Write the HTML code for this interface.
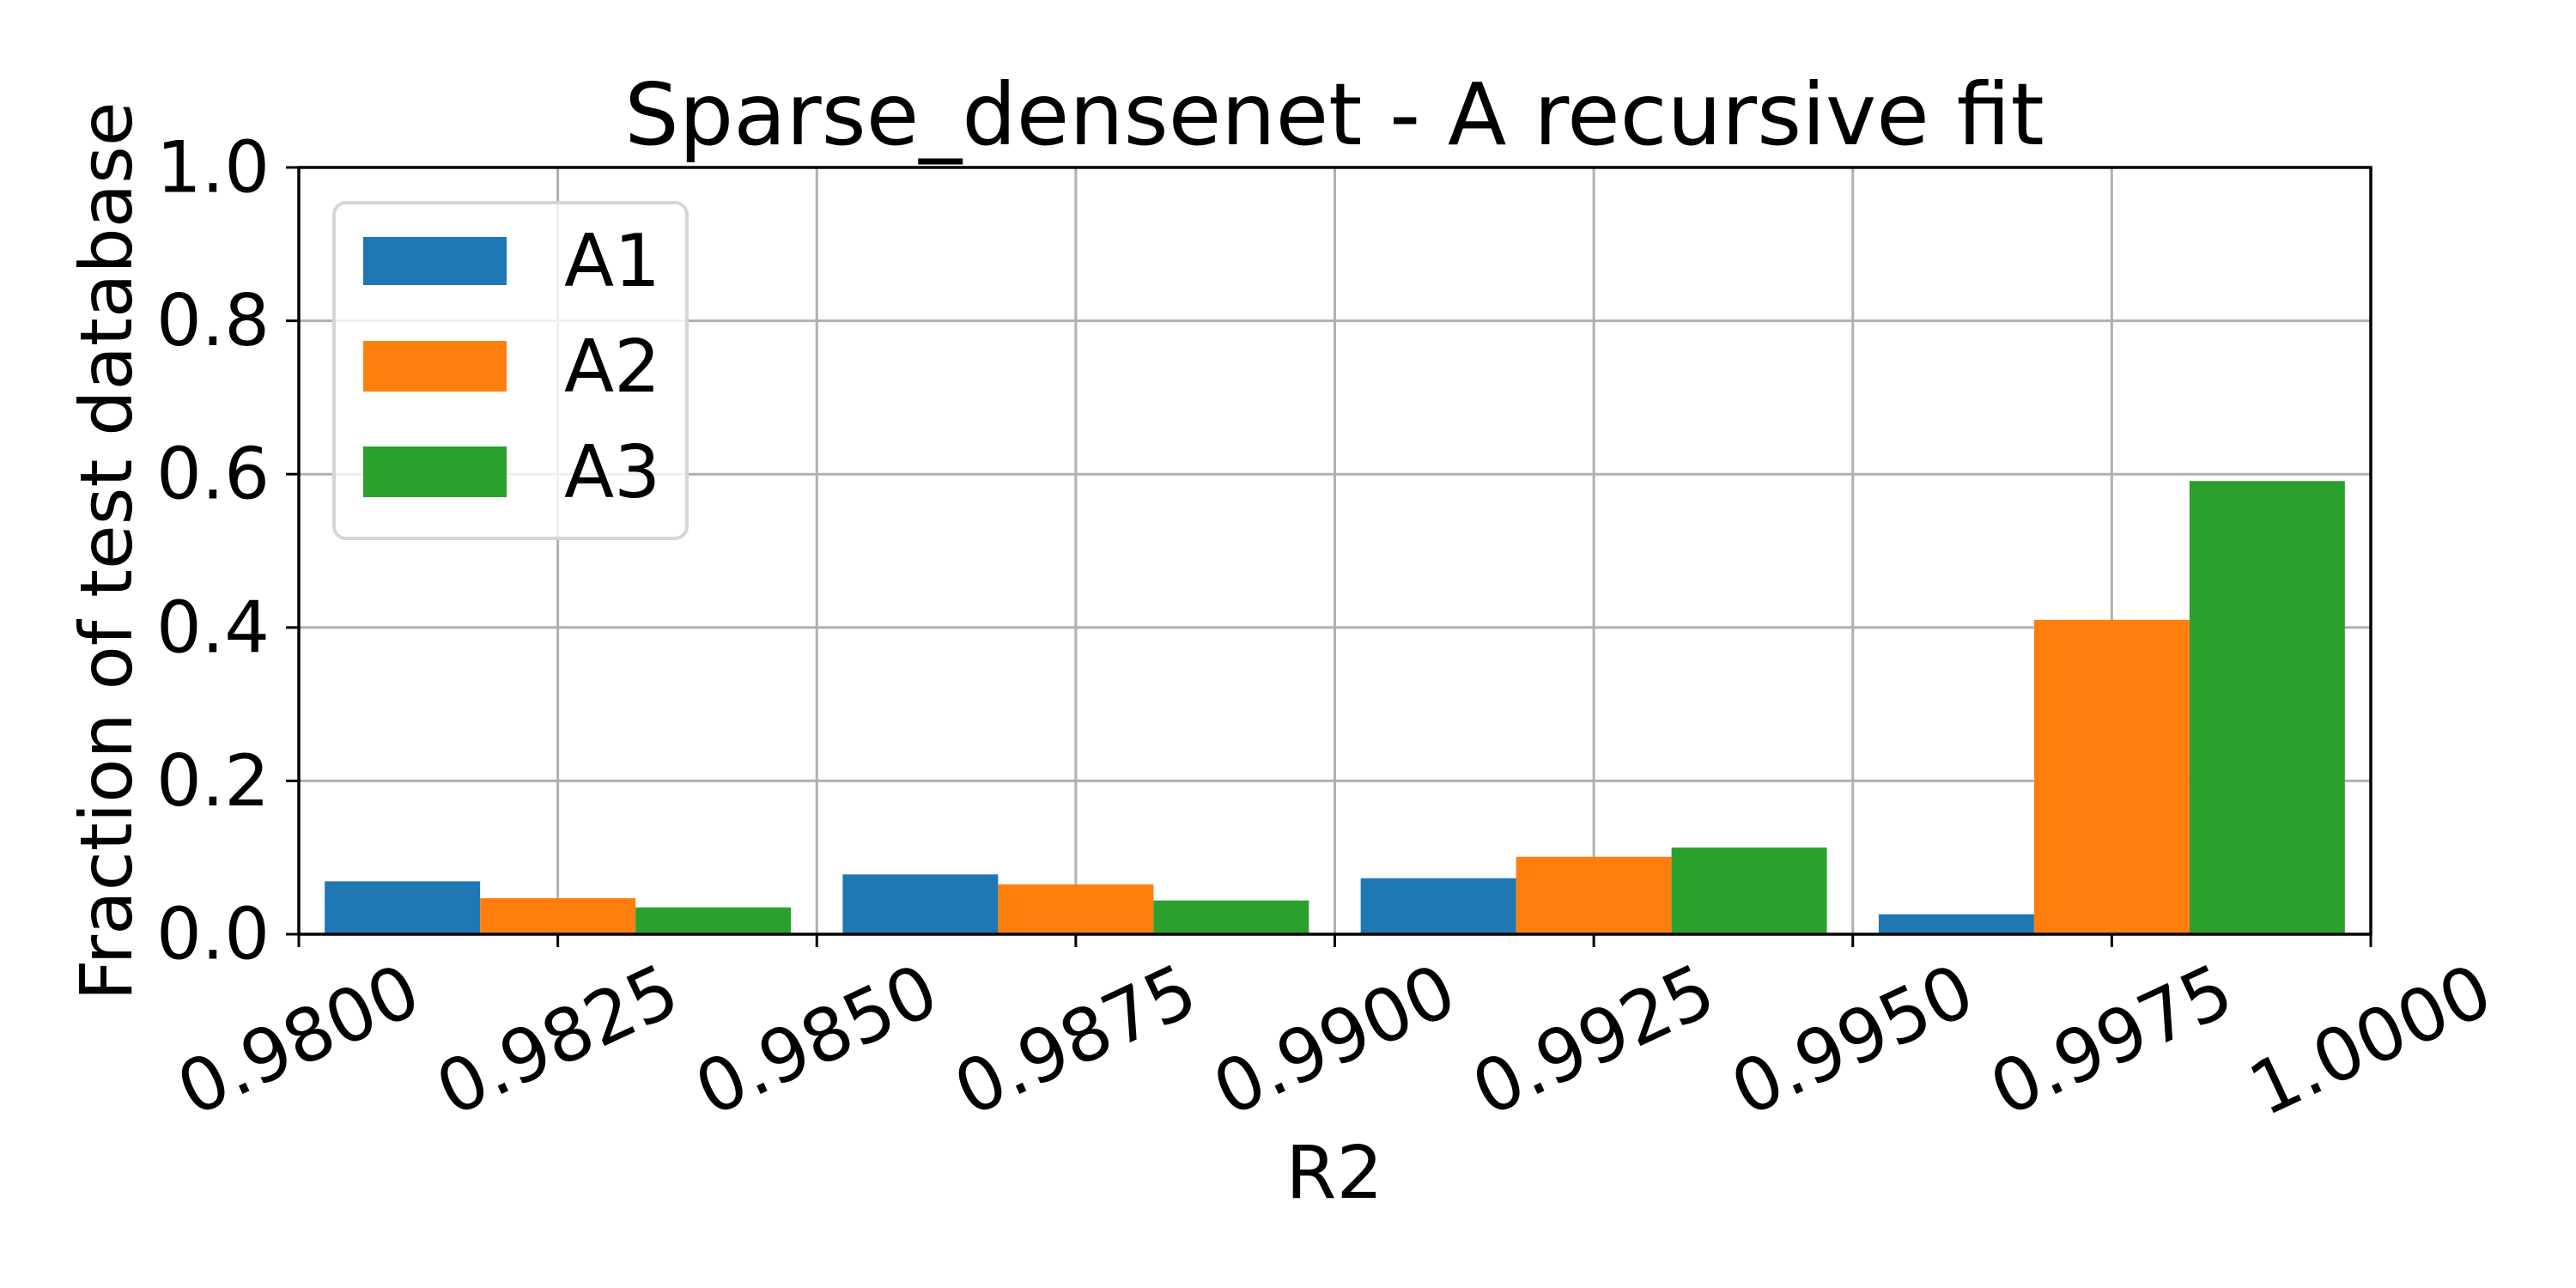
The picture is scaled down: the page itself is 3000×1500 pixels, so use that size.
<!DOCTYPE html>
<html><head><meta charset="utf-8"><style>
html,body{margin:0;padding:0;background:#fff;}
svg{display:block;font-family:"DejaVu Sans","Liberation Sans",sans-serif;}
</style></head><body>
<svg id="chart" width="3000" height="1500" viewBox="0 0 3000 1500">
<rect width="3000" height="1500" fill="#fff"/>
<g id="grid"></g>
<g id="bars"></g>
<g id="axes"></g>
<text x="1554" y="168" text-anchor="middle" font-size="100">Sparse_densenet - A recursive fit</text>
<text x="0" y="0" transform="translate(124,642) rotate(-90)" text-anchor="middle" dominant-baseline="central" font-size="84">Fraction of test database</text>
<text x="1554" y="1395" text-anchor="middle" font-size="85">R2</text>
<g id="legend">
<rect x="389" y="236" width="411" height="391" rx="14" fill="#fff" fill-opacity="0.8" stroke="#d6d6d6" stroke-width="4"/>
<rect x="423" y="276" width="167" height="56" fill="#1f77b4"/>
<text x="657" y="333" font-size="85">A1</text>
<rect x="423" y="397" width="167" height="59" fill="#ff7f0e"/>
<text x="657" y="456" font-size="85">A2</text>
<rect x="423" y="520" width="167" height="59" fill="#2ca02c"/>
<text x="657" y="579" font-size="85">A3</text>
</g>
</svg>
<script>
const binStarts = [0.980, 0.985, 0.990, 0.995];
const seriesA1 = [0.069, 0.078, 0.073, 0.026];
const seriesA2 = [0.047, 0.065, 0.101, 0.410];
const seriesA3 = [0.035, 0.044, 0.113, 0.591];
const xTickLabels = ["0.9800","0.9825","0.9850","0.9875","0.9900","0.9925","0.9950","0.9975","1.0000"];
const yTickLabels = ["0.0","0.2","0.4","0.6","0.8","1.0"];

const NS = "http://www.w3.org/2000/svg";
const L = 348, R = 2761, T = 195, B = 1088;
const xMin = 0.98, xMax = 1.0;
const xs = v => L + (v - xMin) / (xMax - xMin) * (R - L);
const ys = v => B - v * (B - T);
function mk(tag, attrs, parent) {
  const e = document.createElementNS(NS, tag);
  for (const k in attrs) e.setAttribute(k, attrs[k]);
  parent.appendChild(e);
  return e;
}
const grid = document.getElementById('grid');
const bars = document.getElementById('bars');
const axes = document.getElementById('axes');

xTickLabels.forEach((lab) => {
  const v = parseFloat(lab);
  const x = xs(v);
  const g = mk('line', {x1: x, x2: x, y1: T, y2: B, stroke: '#b0b0b0', 'stroke-width': 3}, grid);
  
  
  const t = mk('line', {x1: x, x2: x, y1: B, y2: B + 15, stroke: '#000', 'stroke-width': 3}, axes);
  
  
  const tx = mk('text', {x: 0, y: 0, 'text-anchor': 'middle', 'dominant-baseline': 'central', 'font-size': 85,
    transform: `translate(${x},1212) rotate(-25)`}, axes);
  tx.textContent = lab;
  
  
});
yTickLabels.forEach((lab) => {
  const v = parseFloat(lab);
  const y = ys(v);
  const g = mk('line', {x1: L, x2: R, y1: y, y2: y, stroke: '#b0b0b0', 'stroke-width': 3}, grid);
  
  
  const t = mk('line', {x1: L - 15, x2: L, y1: y, y2: y, stroke: '#000', 'stroke-width': 3}, axes);
  
  
  const tx = mk('text', {x: 314, y: y, 'text-anchor': 'end', 'dominant-baseline': 'central', 'font-size': 83}, axes);
  tx.textContent = lab;
  
  
});

const series = [[seriesA1, '#1f77b4', 'a1'], [seriesA2, '#ff7f0e', 'a2'], [seriesA3, '#2ca02c', 'a3']];
const offset = 0.00025, barW = 0.0015;
binStarts.forEach((b, i) => {
  series.forEach(([vals, col, nm], j) => {
    const x0 = xs(b + offset + j * barW), x1 = xs(b + offset + (j + 1) * barW);
    const r = mk('rect', {x: x0, y: ys(vals[i]), width: x1 - x0, height: B - ys(vals[i]), fill: col}, bars);
    
    
  });
});

const frame = mk('rect', {x: L, y: T, width: R - L, height: B - T, fill: 'none', stroke: '#000', 'stroke-width': 3.5}, axes);


</script>
</body></html>
